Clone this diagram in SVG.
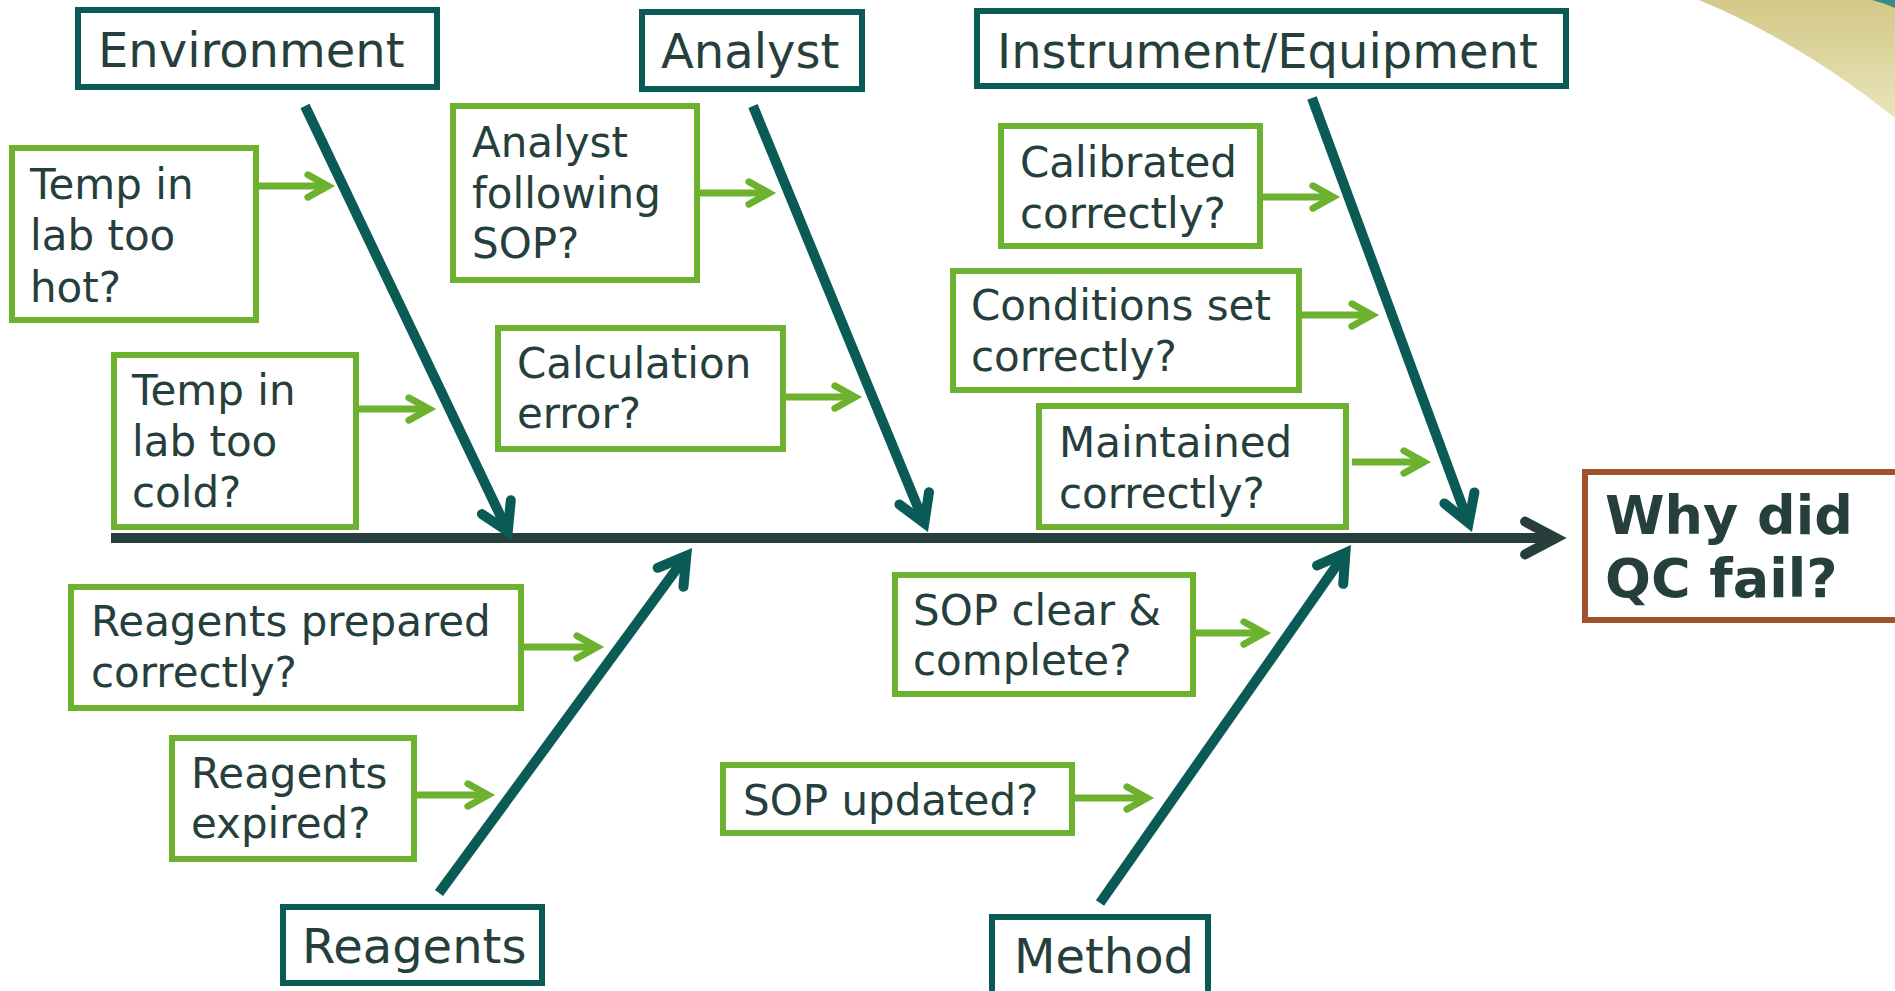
<svg xmlns="http://www.w3.org/2000/svg" width="1895" height="991" viewBox="0 0 1895 991">
  <style>
    .cat { fill: #ffffff; stroke: #0a5a55; stroke-width: 6; }
    .cause { fill: #ffffff; stroke: #6cb22e; stroke-width: 6; }
    .effect { fill: #ffffff; stroke: #a0522d; stroke-width: 6; }
    .txt { font-family: "DejaVu Sans", Verdana, "Liberation Sans", sans-serif; fill: #263f3d; }
    .cat-t { font-size: 48px; }
    .cause-t { font-size: 42px; }
    .effect-t { font-size: 54px; font-weight: bold; }
    .spine { stroke: #0a5a55; stroke-width: 10; fill: none; marker-end: url(#headTeal); }
    .twig { stroke: #6cb22e; stroke-width: 7; fill: none; marker-end: url(#headGreen); }
    .backbone { stroke: #263f3d; stroke-width: 10; fill: none; marker-end: url(#headDark); }
  </style>
  <defs>
    <marker id="headTeal" markerUnits="userSpaceOnUse" orient="auto" refX="0" refY="0" markerWidth="80" markerHeight="80" overflow="visible">
      <path d="M -26.6,-16 L 0,0 L -26.6,16" fill="none" stroke="#0a5a55" stroke-width="10" stroke-linecap="round" stroke-linejoin="miter" stroke-miterlimit="10"/>
    </marker>
    <marker id="headGreen" markerUnits="userSpaceOnUse" orient="auto" refX="0" refY="0" markerWidth="60" markerHeight="60" overflow="visible">
      <path d="M -20.1,-11.2 L 0,0 L -20.1,11.2" fill="none" stroke="#6cb22e" stroke-width="7" stroke-linecap="round" stroke-linejoin="miter" stroke-miterlimit="10"/>
    </marker>
    <marker id="headDark" markerUnits="userSpaceOnUse" orient="auto" refX="0" refY="0" markerWidth="80" markerHeight="80" overflow="visible">
      <path d="M -30.9,-16.4 L 0,0 L -30.9,16.4" fill="none" stroke="#263f3d" stroke-width="10" stroke-linecap="round" stroke-linejoin="miter" stroke-miterlimit="10"/>
    </marker>
    <linearGradient id="swoosh" x1="0" y1="0" x2="0" y2="1">
      <stop offset="0" stop-color="#d3c886"/>
      <stop offset="1" stop-color="#e9e4bd"/>
    </linearGradient>
  </defs>

  <rect x="0" y="0" width="1895" height="991" fill="#ffffff"/>

  <!-- corner ornament -->
  <g id="ornament">
    <path d="M 1699,0 Q 1800,42 1895,118 L 1895,0 Z" fill="url(#swoosh)"/>
    <path d="M 1872,0 Q 1884,3 1895,8 L 1895,0 Z" fill="#3a8a85"/>
  </g>

  <!-- connectors -->
  <g id="connectors">
    <line class="backbone" x1="111" y1="538" x2="1556" y2="538"/>
    <line class="spine" x1="305" y1="106" x2="507.8" y2="531.2"/>
    <line class="spine" x1="753" y1="106" x2="924.3" y2="523"/>
    <line class="spine" x1="1312" y1="98" x2="1468.6" y2="522.9"/>
    <line class="spine" x1="439" y1="893" x2="686.3" y2="555.8"/>
    <line class="spine" x1="1100" y1="903" x2="1345.4" y2="552.9"/>
    <line class="twig" x1="258" y1="186" x2="328" y2="186"/>
    <line class="twig" x1="358" y1="409" x2="429" y2="409"/>
    <line class="twig" x1="699" y1="193" x2="769" y2="193"/>
    <line class="twig" x1="785" y1="397" x2="855" y2="397"/>
    <line class="twig" x1="1262" y1="197" x2="1333" y2="197"/>
    <line class="twig" x1="1301" y1="315" x2="1372" y2="315"/>
    <line class="twig" x1="1352" y1="462" x2="1424" y2="462"/>
    <line class="twig" x1="523" y1="647" x2="597" y2="647"/>
    <line class="twig" x1="416" y1="795" x2="488" y2="795"/>
    <line class="twig" x1="1195" y1="633" x2="1264" y2="633"/>
    <line class="twig" x1="1074" y1="798" x2="1147" y2="798"/>
  </g>

  <!-- category nodes -->
  <g id="environment">
    <rect class="cat" x="78" y="10" width="359" height="77"/>
    <text class="txt cat-t" x="98" y="67">Environment</text>
  </g>
  <g id="analyst">
    <rect class="cat" x="642" y="12" width="220" height="77"/>
    <text class="txt cat-t" x="661" y="68">Analyst</text>
  </g>
  <g id="instrument">
    <rect class="cat" x="977" y="11" width="589" height="75"/>
    <text class="txt cat-t" x="997" y="68">Instrument/Equipment</text>
  </g>
  <g id="reagents">
    <rect class="cat" x="283" y="907" width="259" height="76"/>
    <text class="txt cat-t" x="302" y="963">Reagents</text>
  </g>
  <g id="method">
    <rect class="cat" x="992" y="917" width="216" height="90"/>
    <text class="txt cat-t" x="1014" y="973">Method</text>
  </g>

  <!-- effect node -->
  <g id="effect">
    <rect class="effect" x="1585" y="472" width="400" height="148"/>
    <text class="txt effect-t" x="1605" y="534">Why did</text>
    <text class="txt effect-t" x="1605" y="597">QC fail?</text>
  </g>

  <!-- cause nodes -->
  <g id="temp-hot">
    <rect class="cause" x="12" y="148" width="244" height="172"/>
    <text class="txt cause-t" x="30" y="199">Temp in</text>
    <text class="txt cause-t" x="30" y="250">lab too</text>
    <text class="txt cause-t" x="30" y="302">hot?</text>
  </g>
  <g id="temp-cold">
    <rect class="cause" x="114" y="355" width="242" height="172"/>
    <text class="txt cause-t" x="132" y="405">Temp in</text>
    <text class="txt cause-t" x="132" y="456">lab too</text>
    <text class="txt cause-t" x="132" y="507">cold?</text>
  </g>
  <g id="analyst-sop">
    <rect class="cause" x="453" y="106" width="244" height="174"/>
    <text class="txt cause-t" x="472" y="157">Analyst</text>
    <text class="txt cause-t" x="472" y="208">following</text>
    <text class="txt cause-t" x="472" y="258">SOP?</text>
  </g>
  <g id="calculation">
    <rect class="cause" x="498" y="328" width="285" height="121"/>
    <text class="txt cause-t" x="517" y="378">Calculation</text>
    <text class="txt cause-t" x="517" y="428">error?</text>
  </g>
  <g id="calibrated">
    <rect class="cause" x="1001" y="126" width="259" height="120"/>
    <text class="txt cause-t" x="1020" y="177">Calibrated</text>
    <text class="txt cause-t" x="1020" y="228">correctly?</text>
  </g>
  <g id="conditions">
    <rect class="cause" x="953" y="271" width="346" height="119"/>
    <text class="txt cause-t" x="971" y="320">Conditions set</text>
    <text class="txt cause-t" x="971" y="371">correctly?</text>
  </g>
  <g id="maintained">
    <rect class="cause" x="1039" y="406" width="307" height="121"/>
    <text class="txt cause-t" x="1059" y="457">Maintained</text>
    <text class="txt cause-t" x="1059" y="508">correctly?</text>
  </g>
  <g id="reagents-prepared">
    <rect class="cause" x="71" y="587" width="450" height="121"/>
    <text class="txt cause-t" x="91" y="636">Reagents prepared</text>
    <text class="txt cause-t" x="91" y="687">correctly?</text>
  </g>
  <g id="reagents-expired">
    <rect class="cause" x="172" y="738" width="242" height="121"/>
    <text class="txt cause-t" x="191" y="788">Reagents</text>
    <text class="txt cause-t" x="191" y="838">expired?</text>
  </g>
  <g id="sop-clear">
    <rect class="cause" x="895" y="575" width="298" height="119"/>
    <text class="txt cause-t" x="913" y="625">SOP clear &amp;</text>
    <text class="txt cause-t" x="913" y="675">complete?</text>
  </g>
  <g id="sop-updated">
    <rect class="cause" x="723" y="765" width="349" height="68"/>
    <text class="txt cause-t" x="743" y="815">SOP updated?</text>
  </g>
</svg>
